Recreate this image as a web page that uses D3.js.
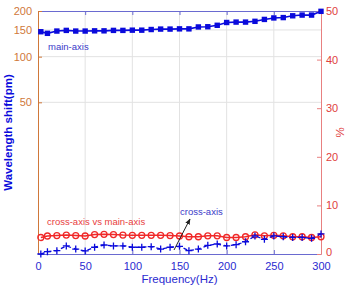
<!DOCTYPE html>
<html>
<head>
<meta charset="utf-8">
<script src="https://cdn.jsdelivr.net/npm/d3@7"></script>
<style>
  body { margin: 0; background: #fff; }
  text { font-family: "Liberation Sans", Arial, sans-serif; }
</style>
</head>
<body>
<div id="chart"></div>
<script>
// frequency points (Hz)
const freq = [3, 10, 20, 30, 40, 50, 60, 70, 80, 90, 100, 110, 120, 130, 140, 150,
  160, 170, 180, 190, 200, 210, 220, 230, 240, 250, 260, 270, 280, 290, 300];
// wavelength shift, main axis (pm)
const mainAxis = [146, 142.5, 147.5, 149, 147.5, 147.5, 148, 148, 149, 149, 149.5, 149.5, 151, 152, 152, 152.5,
  152.5, 157, 157.5, 161, 168, 169, 169, 171, 176, 180, 181, 186, 188, 188, 199];
// wavelength shift, cross axis (pm)
const crossAxis = [5.0, 5.18, 5.26, 5.65, 5.39, 5.24, 5.54, 5.73, 5.65, 5.65, 5.54, 5.54, 5.59, 5.39, 5.54, 5.62,
  5.26, 5.39, 5.7, 5.82, 5.65, 5.76, 6.02, 6.58, 6.25, 6.58, 6.5, 6.43, 6.43, 6.34, 6.78];
// cross-axis vs main-axis ratio (%)
const ratio = [3.4, 3.7, 3.8, 3.9, 3.8, 3.7, 4.0, 4.05, 4.0, 3.9, 3.85, 3.85, 3.85, 3.85, 3.8, 3.7,
  3.55, 3.55, 3.75, 3.75, 3.4, 3.4, 3.55, 3.95, 3.75, 3.85, 3.75, 3.55, 3.55, 3.4, 3.55];

const xTicks = [0, 50, 100, 150, 200, 250, 300];
const leftTicks = [50, 100, 150, 200];
const rightTicks = [0, 10, 20, 30, 40, 50];

const W = 352, H = 288;
const margin = { top: 11, right: 31, bottom: 34, left: 38 };
const width = W - margin.left - margin.right;
const height = H - margin.top - margin.bottom;

const blue = "#0a0adc", red = "#f02828";
const leftCol = "#d0783a", rightCol = "#e04040", xCol = "#2a2ad0";

const svg = d3.select("#chart").append("svg")
  .attr("width", W).attr("height", H);
const g = svg.append("g")
  .attr("transform", "translate(" + margin.left + "," + margin.top + ")");

const x = d3.scaleLinear().domain([0, 300]).range([0, width]);
const yL = d3.scaleLog().domain([5, 200]).range([height, 0]);
const yR = d3.scaleLinear().domain([0, 50]).range([height, 0]);

// grid
g.append("g").selectAll("line").data(xTicks.slice(1, -1)).join("line")
  .attr("x1", d => x(d)).attr("x2", d => x(d))
  .attr("y1", 0).attr("y2", height)
  .attr("stroke", "#e2e2e2").attr("stroke-width", 1);
g.append("g").selectAll("line").data([50, 100, 150]).join("line")
  .attr("x1", 0).attr("x2", width)
  .attr("y1", d => yL(d)).attr("y2", d => yL(d))
  .attr("stroke", "#e2e2e2").attr("stroke-width", 1);

// axes
const axB = g.append("g").attr("transform", "translate(0," + height + ")")
  .call(d3.axisBottom(x).tickValues(xTicks).tickSizeInner(-4).tickSizeOuter(0).tickPadding(8));
axB.select(".domain").attr("stroke", "#6a6ad0");
axB.selectAll(".tick line").attr("stroke", "#6a6ad0");
axB.selectAll("text").attr("fill", xCol).style("font-size", "11px");

const axT = g.append("g")
  .call(d3.axisTop(x).tickValues(xTicks).tickSizeInner(-4).tickSizeOuter(0).tickFormat(""));
axT.select(".domain").attr("stroke", "#6a6ad0");
axT.selectAll(".tick line").attr("stroke", "#6a6ad0");

const axL = g.append("g")
  .call(d3.axisLeft(yL).tickValues(leftTicks).tickFormat(d3.format("d")).tickSizeInner(-4).tickSizeOuter(0).tickPadding(6));
axL.select(".domain").attr("stroke", leftCol);
axL.selectAll(".tick line").attr("stroke", leftCol);
axL.selectAll("text").attr("fill", leftCol).style("font-size", "11px");

const axR = g.append("g").attr("transform", "translate(" + width + ",0)")
  .call(d3.axisRight(yR).tickValues(rightTicks).tickSizeInner(-4).tickSizeOuter(0).tickPadding(5));
axR.select(".domain").attr("stroke", "#e88080");
axR.selectAll(".tick line").attr("stroke", "#e88080");
axR.selectAll("text").attr("fill", rightCol).style("font-size", "11px");
// MATLAB puts the bottom label a little lower
axR.selectAll(".tick").filter(d => d === 0).select("text").attr("dy", "0.15em");

// axis titles
svg.append("text")
  .attr("transform", "translate(12," + (margin.top + height / 2) + ") rotate(-90)")
  .attr("text-anchor", "middle").attr("fill", blue)
  .style("font-size", "11.5px").style("font-weight", "bold")
  .text("Wavelength shift(pm)");
svg.append("text")
  .attr("transform", "translate(344," + (margin.top + height / 2) + ") rotate(-90)")
  .attr("text-anchor", "middle").attr("fill", rightCol)
  .style("font-size", "11.5px")
  .text("%");
svg.append("text")
  .attr("x", margin.left + width / 2).attr("y", 283)
  .attr("text-anchor", "middle").attr("fill", xCol)
  .style("font-size", "11.5px")
  .text("Frequency(Hz)");

const pts = arr => freq.map((f, i) => [f, arr[i]]);

// ratio series (right axis)
g.append("path").datum(pts(ratio))
  .attr("fill", "none").attr("stroke", red).attr("stroke-width", 1.6)
  .attr("d", d3.line().x(d => x(d[0])).y(d => yR(d[1])));
g.append("g").selectAll("circle").data(pts(ratio)).join("circle")
  .attr("cx", d => x(d[0])).attr("cy", d => yR(d[1])).attr("r", 3)
  .attr("fill", "none").attr("stroke", red).attr("stroke-width", 1.3);

// cross-axis series (left axis)
g.append("path").datum(pts(crossAxis))
  .attr("fill", "none").attr("stroke", blue).attr("stroke-width", 1.3)
  .attr("stroke-dasharray", "4,3")
  .attr("d", d3.line().x(d => x(d[0])).y(d => yL(d[1])));
g.append("g").selectAll("path").data(pts(crossAxis)).join("path")
  .attr("transform", d => "translate(" + x(d[0]) + "," + yL(d[1]) + ")")
  .attr("fill", "none").attr("stroke", blue).attr("stroke-width", 1.3)
  .attr("d", "M-3.5,0H3.5M0,-3.5V3.5");

// main-axis series (left axis)
g.append("path").datum(pts(mainAxis))
  .attr("fill", "none").attr("stroke", blue).attr("stroke-width", 1.6)
  .attr("d", d3.line().x(d => x(d[0])).y(d => yL(d[1])));
g.append("g").selectAll("rect").data(pts(mainAxis)).join("rect")
  .attr("x", d => x(d[0]) - 2.7).attr("y", d => yL(d[1]) - 2.7)
  .attr("width", 5.4).attr("height", 5.4)
  .attr("fill", blue);

// annotations
svg.append("text").attr("x", 48).attr("y", 50)
  .attr("fill", "#3a3ac8").style("font-size", "9.5px").text("main-axis");
svg.append("text").attr("x", 47).attr("y", 225)
  .attr("fill", "#e84040").style("font-size", "9.5px").text("cross-axis vs main-axis");
svg.append("text").attr("x", 180).attr("y", 215)
  .attr("fill", "#3a3ac8").style("font-size", "9.5px").text("cross-axis");

svg.append("defs").append("marker")
  .attr("id", "arr").attr("viewBox", "0 0 10 10").attr("refX", 9).attr("refY", 5)
  .attr("markerWidth", 6).attr("markerHeight", 6).attr("orient", "auto")
  .append("path").attr("d", "M0,1L10,5L0,9Z").attr("fill", "#222");
svg.append("line")
  .attr("x1", 174).attr("y1", 250).attr("x2", 190).attr("y2", 219)
  .attr("stroke", "#222").attr("stroke-width", 1)
  .attr("marker-end", "url(#arr)");
</script>
</body>
</html>
